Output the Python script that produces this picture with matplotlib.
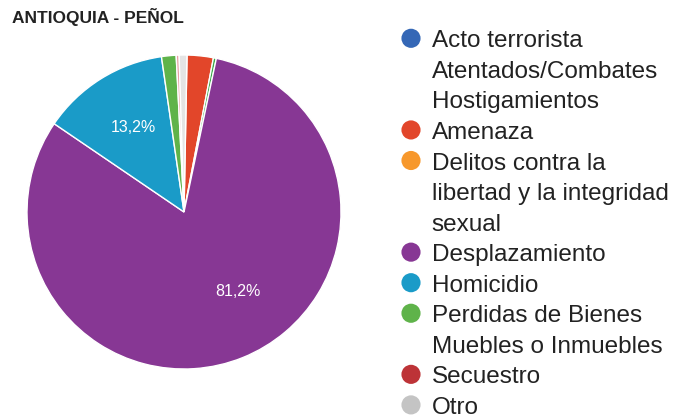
import numpy as np
import matplotlib.pyplot as plt

plt.rcParams['font.family'] = ['Liberation Sans', 'DejaVu Sans']

title = "ANTIOQUIA - PEÑOL"

# legend order
categories = [
    "Acto terrorista\nAtentados/Combates\nHostigamientos",
    "Amenaza",
    "Delitos contra la\nlibertad y la integridad\nsexual",
    "Desplazamiento",
    "Homicidio",
    "Perdidas de Bienes\nMuebles o Inmuebles",
    "Secuestro",
    "Otro",
]
legend_colors = ["#3467b6", "#e2462a", "#f7982c", "#873794", "#1a9bc8",
                 "#5fb34a", "#bd3337", "#c4c4c4"]

# percentages
values = [0.0, 2.7, 0.3, 81.2, 13.2, 1.5, 0.3, 0.8]
# the thin slice after Amenaza shows green in the picture
slice_colors = ["#3467b6", "#e2462a", "#3aa84a", "#873794", "#1a9bc8",
                "#5fb34a", "#e8a0a4", "#e4e4e4"]
shown_labels = {3: "81,2%", 4: "13,2%"}
# where the slice text sits: (fraction of radius, degrees clockwise from top)
label_place = {3: (0.61, 146), 4: (0.63, 329)}

W, H = 697, 416
fig = plt.figure(figsize=(W / 100, H / 100), dpi=100)

# pie: center (184, 212), radius 157 px
cx, cy, r = 184, 212, 157
ax = fig.add_axes([(cx - r) / W, (H - cy - r) / H, 2 * r / W, 2 * r / H])
wedges, _ = ax.pie(values, colors=slice_colors, startangle=90 - 1.1, counterclock=False,
                   radius=1.0, wedgeprops=dict(edgecolor='white', linewidth=1.0))
ax.set_xlim(-1, 1)
ax.set_ylim(-1, 1)
ax.set_aspect('equal')
ax.axis('off')

for i, txt in shown_labels.items():
    d, a = label_place[i]
    ang = np.deg2rad(90 - a)
    ax.text(d * np.cos(ang), d * np.sin(ang), txt, color='white', fontsize=11.5,
            ha='center', va='center')

# overlay axes in pixel coordinates for title and legend
ov = fig.add_axes([0, 0, 1, 1])
ov.set_xlim(0, W)
ov.set_ylim(H, 0)
ov.axis('off')

ov.text(12.5, 23.5, title, fontsize=12.5, fontweight='bold', color='#222222',
        ha='left', va='baseline')

line_h = 30.55
y = 47.3
for cat, col in zip(categories, legend_colors):
    ov.scatter([411], [y - 9], s=190, color=col, edgecolors='none')
    for line in cat.split("\n"):
        ov.text(431.5, y, line, fontsize=17.5, color='#222222', ha='left', va='baseline')
        y += line_h

fig.savefig("out.png", dpi=100)
